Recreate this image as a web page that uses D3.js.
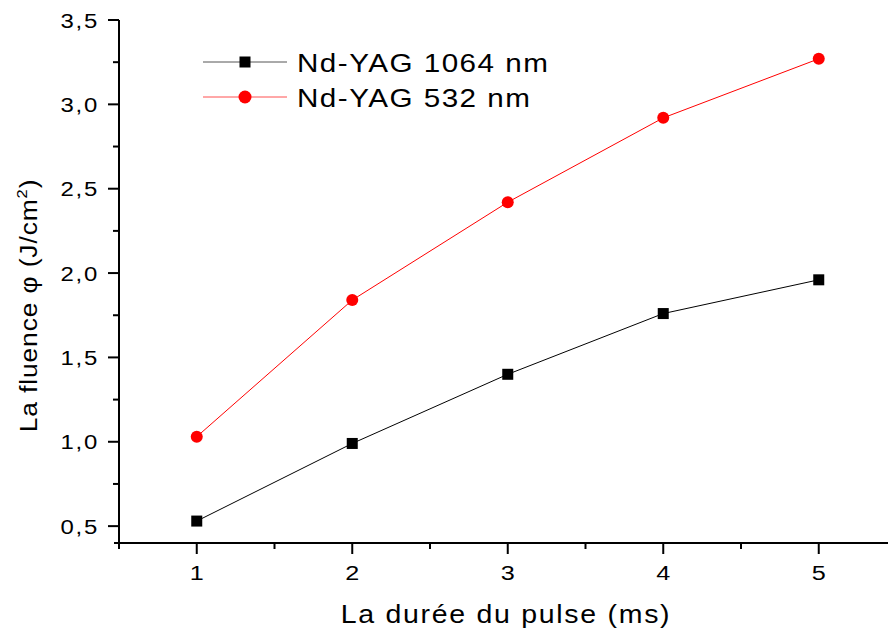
<!DOCTYPE html>
<html><head><meta charset="utf-8">
<script src="https://cdn.jsdelivr.net/npm/d3@7"></script>
<style>body{margin:0;background:#fff}svg{display:block}text{font-family:"Liberation Sans",Arial,sans-serif;fill:#000}</style>
</head><body>
<svg id="c" width="888" height="631"></svg>
<script>
const durations = [1, 2, 3, 4, 5];
const fluence1064 = [0.53, 0.99, 1.40, 1.76, 1.96];
const fluence532 = [1.03, 1.84, 2.42, 2.92, 3.27];
const xTicks = [1, 2, 3, 4, 5];
const yTicks = [0.5, 1.0, 1.5, 2.0, 2.5, 3.0, 3.5];
const seriesNames = ["Nd-YAG 1064 nm", "Nd-YAG 532 nm"];
const seriesColors = ["#000000", "#ff0000"];

const svg = d3.select("#c");
const x = d3.scaleLinear().domain([0.5, 5.5]).range([119, 896.5]);
const y = d3.scaleLinear().domain([0.4, 3.5]).range([543, 20]);
const fmt = d => d3.format(".1f")(d).replace(".", ",");
const SX = 1.14;

// y axis
const ya = svg.append("g").attr("transform", "translate(119,0)");
ya.append("line").attr("x1", 0).attr("x2", 0).attr("y1", 20).attr("y2", 548).attr("stroke", "#000").attr("stroke-width", 2);
ya.selectAll(".maj").data(yTicks).join("line").attr("x1", -11).attr("x2", 0)
  .attr("y1", d => y(d)).attr("y2", d => y(d)).attr("stroke", "#000").attr("stroke-width", 2);
ya.selectAll(".min").data(yTicks.slice(0, -1).map(d => d + 0.25)).join("line").attr("x1", -6).attr("x2", 0)
  .attr("y1", d => y(d)).attr("y2", d => y(d)).attr("stroke", "#000").attr("stroke-width", 2);
ya.selectAll("text").data(yTicks).join("text")
  .attr("transform", d => `translate(-20,${y(d) + 7.5}) scale(${SX},1)`)
  .attr("text-anchor", "end").attr("font-size", 21).attr("letter-spacing", 1.5).text(fmt);

// x axis
const xa = svg.append("g").attr("transform", "translate(0,543)");
xa.append("line").attr("x1", 114).attr("x2", 888).attr("y1", 0).attr("y2", 0).attr("stroke", "#000").attr("stroke-width", 2);
xa.selectAll(".maj").data(xTicks).join("line").attr("x1", d => x(d)).attr("x2", d => x(d))
  .attr("y1", 0).attr("y2", 11).attr("stroke", "#000").attr("stroke-width", 2);
xa.selectAll(".min").data(xTicks.map(d => d - 0.5).concat([5.5])).join("line").attr("x1", d => x(d)).attr("x2", d => x(d))
  .attr("y1", 0).attr("y2", 6).attr("stroke", "#000").attr("stroke-width", 2);
xa.selectAll("text").data(xTicks).join("text")
  .attr("transform", d => `translate(${x(d)},36.5) scale(1.2,1)`)
  .attr("text-anchor", "middle").attr("font-size", 21).text(d => d);

// titles
svg.append("text").attr("transform", `translate(506,623) scale(${SX},1)`).attr("text-anchor", "middle").attr("font-size", 25)
  .attr("letter-spacing", 1.5).text("La durée du pulse (ms)");
const yt = svg.append("text").attr("transform", "translate(37,305.5) rotate(-90) scale(1.1,1)").attr("text-anchor", "middle")
  .attr("font-size", 24).attr("letter-spacing", 0.8);
yt.append("tspan").text("La fluence φ (J/cm");
yt.append("tspan").attr("font-size", 15).attr("dy", -10).text("2");
yt.append("tspan").attr("dy", 10).text(")");

// series
const data = [fluence1064, fluence532];
const line = d3.line().x((d, i) => x(durations[i])).y(d => y(d));
data.forEach((vals, k) => {
  svg.append("path").attr("d", line(vals)).attr("fill", "none").attr("stroke", seriesColors[k]).attr("stroke-width", 1);
  if (k === 0) {
    svg.selectAll(".sq").data(vals).join("rect").attr("x", (d, i) => x(durations[i]) - 5.5).attr("y", d => y(d) - 5.5)
      .attr("width", 11).attr("height", 11).attr("fill", seriesColors[k]);
  } else {
    svg.selectAll(".ci").data(vals).join("circle").attr("cx", (d, i) => x(durations[i])).attr("cy", d => y(d))
      .attr("r", 6).attr("fill", seriesColors[k]);
  }
});

// legend
const leg = svg.append("g");
const ly = [62, 97];
seriesNames.forEach((name, k) => {
  leg.append("line").attr("x1", 203).attr("x2", 287).attr("y1", ly[k]).attr("y2", ly[k])
    .attr("stroke", k === 0 ? "#555" : "#ff5050").attr("stroke-width", 1);
  if (k === 0) leg.append("rect").attr("x", 245 - 5.5).attr("y", ly[k] - 5.5).attr("width", 11).attr("height", 11).attr("fill", seriesColors[k]);
  else leg.append("circle").attr("cx", 245).attr("cy", ly[k]).attr("r", 6.5).attr("fill", seriesColors[k]);
  leg.append("text").attr("transform", `translate(297,${ly[k] + 9.5}) scale(${SX},1)`).attr("font-size", 26)
    .attr("letter-spacing", 1.3).text(name);
});
</script>
</body></html>
